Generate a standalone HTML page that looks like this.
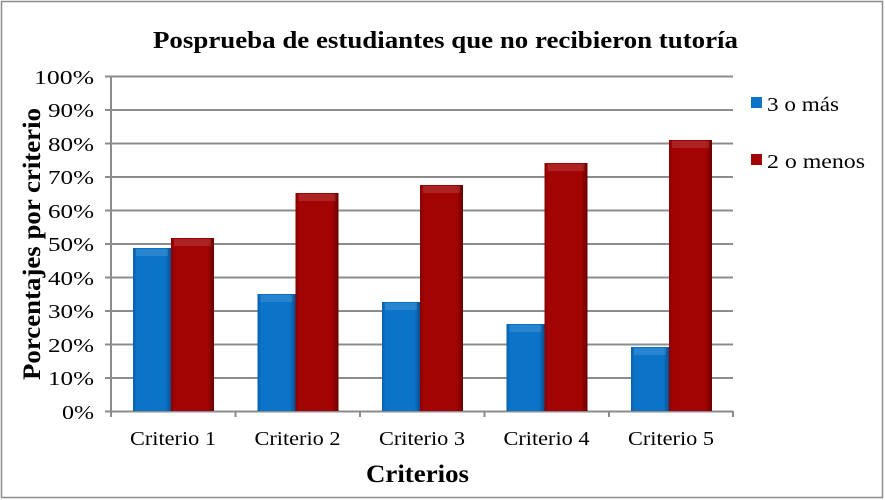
<!DOCTYPE html>
<html><head><meta charset="utf-8"><style>
body{margin:0;background:#fff}
svg{display:block;font-family:"Liberation Serif",serif}
</style></head><body>
<svg width="885" height="500" viewBox="0 0 885 500">
<defs>
<linearGradient id="b" x1="0" x2="1" y1="0" y2="0"><stop offset="0" stop-color="#0a5fae"/><stop offset="0.1" stop-color="#0b74c9"/><stop offset="0.85" stop-color="#0b74c9"/><stop offset="1" stop-color="#0a4f90"/></linearGradient>
<linearGradient id="r" x1="0" x2="1" y1="0" y2="0"><stop offset="0" stop-color="#8a0000"/><stop offset="0.1" stop-color="#a20404"/><stop offset="0.85" stop-color="#a20404"/><stop offset="1" stop-color="#6a0000"/></linearGradient>
</defs>
<rect x="1.5" y="1.5" width="881" height="496" fill="#fff" stroke="#8c8c8c" stroke-width="1.5"/>
<text x="153" y="48" font-size="24" font-weight="bold" textLength="585" lengthAdjust="spacingAndGlyphs">Posprueba de estudiantes que no recibieron tutoría</text>
<g stroke="#8c8c8c" stroke-width="2">
<line x1="105" x2="733" y1="76.5" y2="76.5"/><line x1="105" x2="733" y1="110" y2="110"/><line x1="105" x2="733" y1="143.5" y2="143.5"/><line x1="105" x2="733" y1="177" y2="177"/><line x1="105" x2="733" y1="210.5" y2="210.5"/><line x1="105" x2="733" y1="244" y2="244"/><line x1="105" x2="733" y1="277.5" y2="277.5"/><line x1="105" x2="733" y1="311" y2="311"/><line x1="105" x2="733" y1="344.5" y2="344.5"/><line x1="105" x2="733" y1="378" y2="378"/><line x1="105" x2="733" y1="411.5" y2="411.5"/>
<line x1="111" x2="111" y1="76" y2="417"/><line x1="235.5" x2="235.5" y1="411" y2="417"/><line x1="360" x2="360" y1="411" y2="417"/><line x1="484.5" x2="484.5" y1="411" y2="417"/><line x1="609" x2="609" y1="411" y2="417"/><line x1="733" x2="733" y1="411" y2="417"/>
</g>
<g font-size="20" text-anchor="end">
<text x="94" y="84" textLength="60" lengthAdjust="spacingAndGlyphs">100%</text><text x="94" y="117" textLength="46" lengthAdjust="spacingAndGlyphs">90%</text><text x="94" y="151" textLength="46" lengthAdjust="spacingAndGlyphs">80%</text><text x="94" y="184" textLength="46" lengthAdjust="spacingAndGlyphs">70%</text><text x="94" y="218" textLength="46" lengthAdjust="spacingAndGlyphs">60%</text><text x="94" y="251" textLength="46" lengthAdjust="spacingAndGlyphs">50%</text><text x="94" y="285" textLength="46" lengthAdjust="spacingAndGlyphs">40%</text><text x="94" y="318" textLength="46" lengthAdjust="spacingAndGlyphs">30%</text><text x="94" y="352" textLength="46" lengthAdjust="spacingAndGlyphs">20%</text><text x="94" y="385" textLength="46" lengthAdjust="spacingAndGlyphs">10%</text><text x="94" y="419" textLength="32" lengthAdjust="spacingAndGlyphs">0%</text>
</g>
<g>
<rect x="133" y="248" width="38" height="163" fill="url(#b)"/><rect x="171" y="238" width="43" height="173" fill="url(#r)"/>
<rect x="257.5" y="294" width="38" height="117" fill="url(#b)"/><rect x="295.5" y="193" width="43" height="218" fill="url(#r)"/>
<rect x="382" y="302" width="38" height="109" fill="url(#b)"/><rect x="420" y="185" width="43" height="226" fill="url(#r)"/>
<rect x="506.5" y="324" width="38" height="87" fill="url(#b)"/><rect x="544.5" y="163" width="43" height="248" fill="url(#r)"/>
<rect x="631" y="347" width="38" height="64" fill="url(#b)"/><rect x="669" y="140" width="43" height="271" fill="url(#r)"/>
</g>
<g fill="#fff" opacity="0.12">
<rect x="136" y="249" width="32" height="7"/><rect x="174" y="239" width="37" height="7"/>
<rect x="260.5" y="295" width="32" height="7"/><rect x="298.5" y="194" width="37" height="7"/>
<rect x="385" y="303" width="32" height="7"/><rect x="423" y="186" width="37" height="7"/>
<rect x="509.5" y="325" width="32" height="7"/><rect x="547.5" y="164" width="37" height="7"/>
<rect x="634" y="348" width="32" height="7"/><rect x="672" y="141" width="37" height="7"/>
</g>
<g font-size="20">
<text x="130" y="445" textLength="86" lengthAdjust="spacingAndGlyphs">Criterio 1</text><text x="254.5" y="445" textLength="86" lengthAdjust="spacingAndGlyphs">Criterio 2</text><text x="379" y="445" textLength="86" lengthAdjust="spacingAndGlyphs">Criterio 3</text><text x="503.5" y="445" textLength="86" lengthAdjust="spacingAndGlyphs">Criterio 4</text><text x="628" y="445" textLength="86" lengthAdjust="spacingAndGlyphs">Criterio 5</text>
</g>
<text x="366" y="482" font-size="25" font-weight="bold" textLength="103" lengthAdjust="spacingAndGlyphs">Criterios</text>
<text transform="translate(40,380) rotate(-90)" font-size="25" font-weight="bold" textLength="272" lengthAdjust="spacingAndGlyphs">Porcentajes por criterio</text>
<rect x="751" y="97" width="11" height="11" fill="#0b74c9"/>
<text x="767" y="111" font-size="20" textLength="72" lengthAdjust="spacingAndGlyphs">3 o más</text>
<rect x="751" y="154" width="11" height="11" fill="#a20404"/>
<text x="767" y="168" font-size="20" textLength="98" lengthAdjust="spacingAndGlyphs">2 o menos</text>
</svg>
</body></html>
